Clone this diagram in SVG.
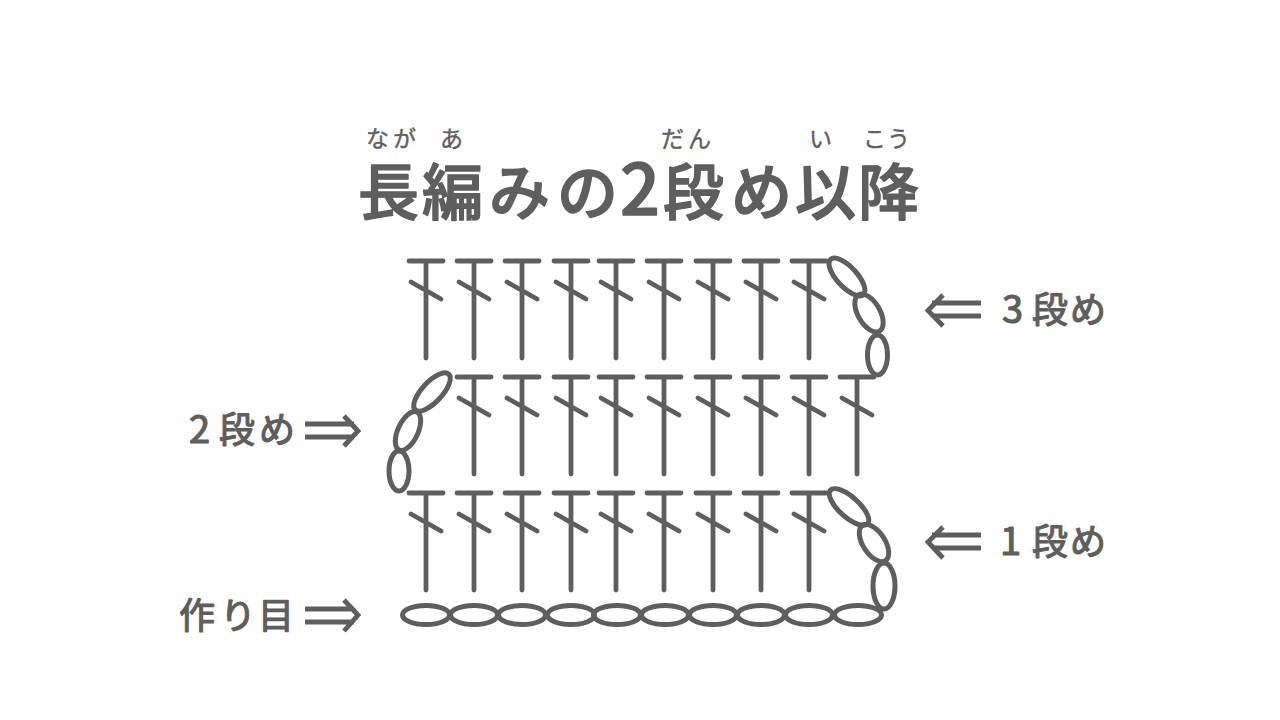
<svg xmlns="http://www.w3.org/2000/svg" width="1280" height="720" viewBox="0 0 1280 720">
<style>
.l{fill:none;stroke:#5e5e5e;stroke-width:4.8;stroke-linecap:round}
.e{fill:none;stroke:#5e5e5e;stroke-width:5}
.a{fill:none;stroke:#5e5e5e;stroke-width:4.8;stroke-linejoin:miter}
text{font-family:"Noto Sans CJK JP","Noto Sans",sans-serif;fill:#5e5e5e;stroke:#5e5e5e;stroke-linejoin:round}
.t{font-size:61px;font-weight:500;stroke-width:1.4}
.td{font-size:70px}
.r{font-size:23px;font-weight:400;stroke-width:.4}
.s{font-size:36px;font-weight:400;stroke-width:1.2}
.d{font-size:38px}
</style>
<defs>
<g id="st"><path class="l" d="M-17 0H17M0 0V97M-15 21L15 38"/></g>
<ellipse id="ch" class="e" rx="23.500" ry="9.500"/>
</defs>
<rect width="1280" height="720" fill="#fff"/>
<g id="title">
<text class="t" y="215"><tspan x="358 422 489 557">長編みの</tspan><tspan class="td" x="620">2</tspan><tspan x="663 731 795 858">段め以降</tspan></text>
<text class="r" x="366 393" y="147">なが</text>
<text class="r" x="440" y="147">あ</text>
<text class="r" x="661 688" y="147">だん</text>
<text class="r" x="809" y="147">い</text>
<text class="r" x="863 887" y="147">こう</text>
</g>
<g id="row3">
<use href="#st" x="426" y="261"/><use href="#st" x="474" y="261"/><use href="#st" x="522" y="261"/><use href="#st" x="571" y="261"/><use href="#st" x="616" y="261"/><use href="#st" x="664" y="261"/><use href="#st" x="713" y="261"/><use href="#st" x="761" y="261"/><use href="#st" x="809" y="261"/>
<ellipse class="e" cx="847" cy="277" rx="24" ry="10" transform="rotate(47 847 277)"/>
<ellipse class="e" cx="869" cy="313" rx="21" ry="11" transform="rotate(60 869 313)"/>
<ellipse class="e" cx="877.500" cy="355" rx="10" ry="20"/>
</g>
<g id="row2">
<use href="#st" x="474" y="377"/><use href="#st" x="522" y="377"/><use href="#st" x="571" y="377"/><use href="#st" x="616" y="377"/><use href="#st" x="664" y="377"/><use href="#st" x="713" y="377"/><use href="#st" x="761" y="377"/><use href="#st" x="809" y="377"/><use href="#st" x="857" y="377"/>
<ellipse class="e" cx="432" cy="392" rx="24.500" ry="10" transform="rotate(-47 432 392)"/>
<ellipse class="e" cx="408" cy="431" rx="21" ry="10" transform="rotate(-65 408 431)"/>
<ellipse class="e" cx="399" cy="471" rx="10" ry="20"/>
</g>
<g id="row1">
<use href="#st" x="426" y="493"/><use href="#st" x="474" y="493"/><use href="#st" x="522" y="493"/><use href="#st" x="571" y="493"/><use href="#st" x="616" y="493"/><use href="#st" x="664" y="493"/><use href="#st" x="713" y="493"/><use href="#st" x="761" y="493"/><use href="#st" x="809" y="493"/>
<ellipse class="e" cx="849" cy="507" rx="25" ry="10" transform="rotate(42 849 507)"/>
<ellipse class="e" cx="874" cy="543" rx="21" ry="11" transform="rotate(57 874 543)"/>
<ellipse class="e" cx="884" cy="586" rx="11" ry="23"/>
</g>
<g id="foundation">
<use href="#ch" x="426" y="615"/><use href="#ch" x="474" y="615"/><use href="#ch" x="522" y="615"/><use href="#ch" x="571" y="615"/><use href="#ch" x="617" y="615"/><use href="#ch" x="665" y="615"/><use href="#ch" x="713" y="615"/><use href="#ch" x="761" y="615"/><use href="#ch" x="809" y="615"/><use href="#ch" x="858" y="615"/>
</g>
<g id="labels">
<text class="s" y="323"><tspan class="d" x="1002">3</tspan><tspan x="1032">段</tspan><tspan x="1070">め</tspan></text>
<text class="s" y="555"><tspan class="d" x="1000">1</tspan><tspan x="1032">段</tspan><tspan x="1070">め</tspan></text>
<text class="s" y="443"><tspan class="d" x="189">2</tspan><tspan x="219">段</tspan><tspan x="259">め</tspan></text>
<text class="s" x="179 220 258" y="629">作り目</text>
</g>
<g id="connectors">
<path class="a" d="M981 303H932M981 316H932M943 295L928 310.500L943 326"/>
<path class="a" d="M981 535H932M981 548H932M943 527L928 542L943 558"/>
<path class="a" d="M305 424H354M305 437H354M344 416L358 431L344 446"/>
<path class="a" d="M305 609H354M305 622H354M344 600L358 615L344 631"/>
</g>
</svg>
